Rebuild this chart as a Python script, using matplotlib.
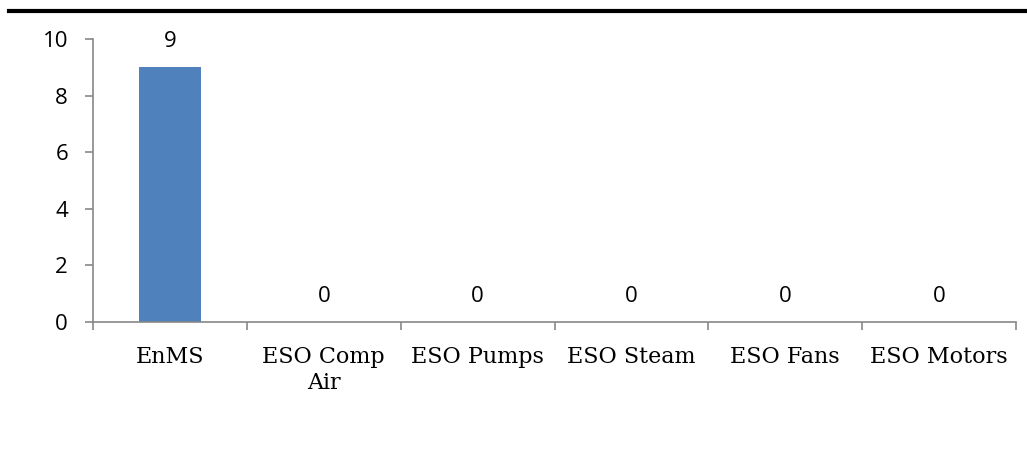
import matplotlib.pyplot as plt
from matplotlib.lines import Line2D

categories = ['EnMS', 'ESO Comp\nAir', 'ESO Pumps', 'ESO Steam', 'ESO Fans', 'ESO Motors']
counts = [9, 0, 0, 0, 0, 0]

fig = plt.figure(figsize=(10.27, 4.68), dpi=100)
ax = fig.add_axes([0.0906, 0.312, 0.8987, 0.6047])

x = list(range(len(categories)))
ax.bar(x, counts, width=0.4, color='#4F81BD')

# value labels above each bar
for xi, v in zip(x, counts):
    ax.text(xi, v + 0.9, str(v), ha='center', va='center',
            fontsize=16, family='Open Sans', color='black')

ax.set_xlim(-0.5, len(categories) - 0.5)
ax.set_ylim(0, 10)
ax.set_yticks(range(0, 11, 2))
ax.set_xticks(x)
ax.set_xticklabels(categories, family='DejaVu Serif', fontsize=16, linespacing=1.25)
ax.set_xticks([i - 0.5 for i in range(len(categories) + 1)], minor=True)

for lbl in ax.get_yticklabels():
    lbl.set_family('Open Sans')
    lbl.set_fontsize(16)

ax.tick_params(axis='x', which='major', length=0, pad=17)
ax.tick_params(axis='x', which='minor', length=6, width=1.2, color='#888888', direction='out')
ax.tick_params(axis='y', length=6, width=1.2, color='#888888', direction='out', pad=12)

for side in ['top', 'right']:
    ax.spines[side].set_visible(False)
for side in ['left', 'bottom']:
    ax.spines[side].set_color('#888888')
    ax.spines[side].set_linewidth(1.2)

# heavy rule across the top
fig.add_artist(Line2D([0.009, 1.0], [0.9765, 0.9765], transform=fig.transFigure,
                      color='black', linewidth=3))

fig.savefig('out.png', dpi=100)
